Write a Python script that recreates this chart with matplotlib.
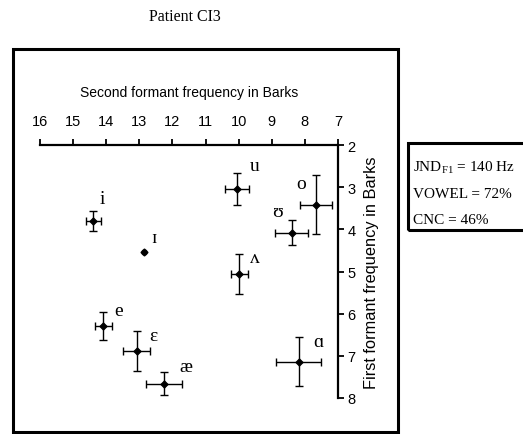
import matplotlib
matplotlib.use("Agg")
import matplotlib.pyplot as plt
from matplotlib.patches import Rectangle

# second formant (Barks), first formant (Barks), errors
vowels = ["i", "ɪ", "u", "o", "ʊ", "ʌ", "e", "ɛ", "æ", "ɑ"]
f2 = [14.39, 12.87, 10.04, 7.67, 8.40, 9.98, 14.09, 13.08, 12.26, 8.19]
f1 = [3.80, 4.54, 3.04, 3.42, 4.08, 5.06, 6.29, 6.88, 7.66, 7.14]
f2_err = [0.23, 0.06, 0.36, 0.48, 0.49, 0.26, 0.26, 0.41, 0.55, 0.68]
f1_err = [0.23, 0.05, 0.38, 0.70, 0.29, 0.47, 0.34, 0.47, 0.27, 0.58]

# label offsets from the point, in pixels
lab_dx = [9, 10, 17, -15, -14, 16, 15, 17, 22, 20]
lab_dy = [22, 15, 23, 21, 21, 17, 15, 15, 17, 20]

serif = ["Liberation Serif", "DejaVu Serif"]
sans = ["Liberation Sans", "DejaVu Sans"]

fig = plt.figure(figsize=(5.23, 4.35), dpi=100)
W, H = 523, 435

# outer frame around the plot
fig.patches.append(Rectangle((13 / W, 1 - 433 / H), (398 - 13) / W, (433 - 50) / H,
                             transform=fig.transFigure, fill=False, lw=2.2, ec="black"))

fig.text(185 / W, 1 - 17 / H, "Patient CI3", ha="center", va="center",
         family=serif, fontsize=11.5)

ax = fig.add_axes([40 / W, 1 - 399 / H, (338 - 40) / W, (399 - 146) / H])
for x, y, ex, ey in zip(f2, f1, f2_err, f1_err):
    cs = 3 if max(ex, ey) > 0.1 else 1.2
    ax.errorbar(x, y, xerr=ex, yerr=ey, fmt="D", ms=3.5, color="black",
                ecolor="black", elinewidth=1.0, capsize=cs, capthick=1.0)

for v, x, y, dx, dy in zip(vowels, f2, f1, lab_dx, lab_dy):
    ax.annotate(v, (x, y), xytext=(dx, dy), textcoords="offset pixels",
                ha="center", va="center", family=serif, fontsize=14)

ax.set_xlim(16, 7)
ax.set_ylim(8, 2)
ax.set_xticks(range(7, 17))
ax.set_yticks(range(2, 9))

for s in ["left", "bottom"]:
    ax.spines[s].set_visible(False)
for s in ["top", "right"]:
    ax.spines[s].set_linewidth(1.6)

ax.xaxis.tick_top()
ax.xaxis.set_label_position("top")
ax.yaxis.tick_right()
ax.yaxis.set_label_position("right")
ax.tick_params(axis="both", direction="out", length=4, width=1.3, labelsize=10.5)
ax.tick_params(axis="x", pad=8)
ax.tick_params(axis="y", pad=3)
for lab in ax.get_xticklabels() + ax.get_yticklabels():
    lab.set_family(sans)

ax.set_xlabel("Second formant frequency in Barks", family=sans, fontsize=10, labelpad=13)
ax.set_ylabel("First formant frequency in Barks", family=sans, fontsize=11.8, labelpad=6)

# info box on the right
fig.patches.append(Rectangle((408 / W, 1 - 231 / H), (530 - 408) / W, (231 - 144) / H,
                             transform=fig.transFigure, fill=False, lw=2.2, ec="black",
                             clip_on=False))
fig.text(413 / W, 1 - 168 / H, r"JND$_{\mathregular{F1}}$ = 140 Hz", ha="left", va="center",
         family=serif, fontsize=11)
fig.text(413 / W, 1 - 195 / H, "VOWEL = 72%", ha="left", va="center",
         family=serif, fontsize=11)
fig.text(413 / W, 1 - 220 / H, "CNC = 46%", ha="left", va="center",
         family=serif, fontsize=11)

fig.savefig("out.png", dpi=100)
